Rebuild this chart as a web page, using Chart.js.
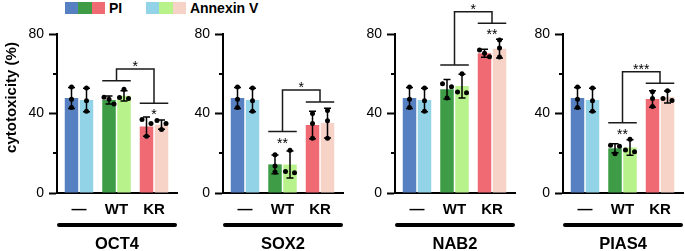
<!DOCTYPE html>
<html>
<head>
<meta charset="utf-8">
<script src="https://cdn.jsdelivr.net/npm/chart.js@4"></script>
<style>
  html, body { margin: 0; padding: 0; background: #fff; width: 685px; height: 251px; overflow: hidden; position: relative; }
  canvas { position: absolute; top: 0; }
  .sw { position: absolute; top: 2px; height: 12px; }
  .lg { position: absolute; top: 0; font: bold 14px "Liberation Sans", Arial, sans-serif; line-height: 16px; color: #000; }
</style>
</head>
<body>
<script>
// cytotoxicity panels — PI vs Annexin V, mean ± SD with replicate dots

const panelNames = ['OCT4', 'SOX2', 'NAB2', 'PIAS4'];
const groupLabels = ['—', 'WT', 'KR'];
const seriesNames = ['PI', 'Annexin V'];
const yTicks = [0, 20, 40, 60, 80];
const yLabelTicks = [0, 40, 80];

const piMeans = [[47.8, 46.8, 33.4], [47.8, 14.4, 34.2], [47.8, 52.2, 70.3], [47.8, 22.5, 47.3]];
const piSd = [[5.3, 2.0, 4.8], [5.3, 4.7, 6.9], [5.3, 4.9, 2.0], [5.3, 2.3, 4.2]];
const piDots = [
  [[53.3, 47.2, 43.0], [47.2, 44.8, 48.2], [37.0, 35.0, 28.5]],
  [[53.3, 47.2, 43.0], [19.2, 13.6, 10.6], [40.0, 35.0, 27.5]],
  [[53.3, 47.2, 43.0], [55.0, 53.5, 47.8], [72.0, 68.6, 70.3]],
  [[53.3, 47.2, 43.0], [24.0, 23.5, 19.8], [51.0, 47.5, 43.5]],
];

const annexinMeans = [[46.8, 48.9, 34.4], [46.8, 14.3, 35.2], [46.8, 53.8, 72.6], [46.8, 22.9, 48.3]];
const annexinSd = [[5.9, 2.6, 2.3], [5.9, 6.8, 7.5], [5.9, 6.0, 4.7], [5.9, 3.9, 3.0]];
const annexinDots = [
  [[52.8, 46.4, 41.1], [52.2, 47.5, 48.0], [36.5, 35.0, 32.0]],
  [[52.8, 46.4, 41.1], [21.5, 10.2, 10.8], [41.5, 36.4, 27.5]],
  [[52.8, 46.4, 41.1], [60.0, 50.5, 50.8], [77.0, 72.9, 68.4]],
  [[52.8, 46.4, 41.1], [27.0, 20.8, 21.6], [51.5, 46.5, 47.5]],
];

// significance brackets (y in % units) and their labels
const wtBracket = [56.5, 30.9, 64.4, 35.4];
const krBracket = [45.1, 45.8, 85.4, 55.2];
const topBracket = [62.4, 51.8, 91.2, 61.0];
const topStars = ['*', '*', '*', '***'];
const wtStars = ['', '**', '', '**'];
const krStars = ['*', '', '**', ''];

const piColors = ['#5680C1', '#3D9C45', '#EF6A72'];
const annexinColors = ['#92D3E8', '#B8F28B', '#F6D2C7'];

const FONT = '"Liberation Sans", Arial, sans-serif';
const axisX = [57, 223, 395, 563];
const Y_AXIS_W = 57, PLOT_W = 120, TOP = 34, X_AXIS_H = 58;
const CANVAS_W = 185, CANVAS_H = 251;
const UNIT = 37.5;                 // px between group centres
const X_MIN = 1 - 22 / UNIT;       // first group centre 22px right of the axis

// legend (html, grouped swatches)
function legend(colors, name, left) {
  colors.forEach((c, i) => {
    const d = document.createElement('div');
    d.className = 'sw';
    d.style.left = (left + i * 13.3) + 'px';
    d.style.width = '13.6px';
    d.style.background = c;
    document.body.appendChild(d);
  });
  const t = document.createElement('div');
  t.className = 'lg';
  t.style.left = (left + 3 * 13.3 + 4) + 'px';
  t.textContent = name;
  document.body.appendChild(t);
}
legend(piColors, seriesNames[0], 65);
legend(annexinColors, seriesNames[1], 146);

function spread(ys) {
  const sorted = ys.slice().sort((a, b) => a - b);
  const out = [];
  let cluster = [sorted[0]];
  const flush = () => {
    const n = cluster.length;
    cluster.forEach((py, k) => out.push([py, n === 1 ? 0 : (k - (n - 1) / 2) * (n === 2 ? 9 : 5)]));
  };
  for (let k = 1; k < sorted.length; k++) {
    if (sorted[k] - sorted[k - 1] < 5) cluster.push(sorted[k]);
    else { flush(); cluster = [sorted[k]]; }
  }
  flush();
  return out;
}

function star(ctx, txt, x, yc) {
  if (!txt) return;
  ctx.font = '14px ' + FONT;
  ctx.textAlign = 'center';
  ctx.textBaseline = 'alphabetic';
  ctx.fillText(txt, x, yc + 8);
}

function overlay(p) {
  return {
    id: 'overlay' + p,
    afterDatasetsDraw(chart) {
      const { ctx, scales: { y } } = chart;
      const pi = chart.getDatasetMeta(0).data;
      const ax = chart.getDatasetMeta(1).data;
      ctx.save();
      ctx.strokeStyle = '#000';
      ctx.fillStyle = '#000';
      [[pi, piMeans[p], piSd[p], piDots[p]], [ax, annexinMeans[p], annexinSd[p], annexinDots[p]]].forEach(([bars, means, sd, dots]) => {
        bars.forEach((bar, g) => {
          const top = y.getPixelForValue(means[g] + sd[g]);
          const bot = y.getPixelForValue(means[g] - sd[g]);
          ctx.lineWidth = 1.5;
          ctx.beginPath();
          ctx.moveTo(bar.x, top); ctx.lineTo(bar.x, bot);
          ctx.moveTo(bar.x - 3.5, top); ctx.lineTo(bar.x + 3.5, top);
          ctx.moveTo(bar.x - 3.5, bot); ctx.lineTo(bar.x + 3.5, bot);
          ctx.stroke();
          spread(dots[g].map(v => y.getPixelForValue(v))).forEach(([py, dx]) => {
            ctx.beginPath();
            ctx.arc(bar.x + dx, py, 2.5, 0, Math.PI * 2);
            ctx.fill();
          });
        });
      });

      const pairL = g => pi[g].x - pi[g].width / 2;
      const pairR = g => ax[g].x + ax[g].width / 2;
      const mid = g => (pairL(g) + pairR(g)) / 2;
      const yWT = y.getPixelForValue(wtBracket[p]);
      const yKR = y.getPixelForValue(krBracket[p]);
      const yTop = y.getPixelForValue(topBracket[p]);
      ctx.strokeStyle = '#1a1a1a';
      ctx.lineWidth = 1.5;
      ctx.beginPath();
      ctx.moveTo(pairL(1), yWT); ctx.lineTo(pairR(1), yWT);
      ctx.moveTo(pairL(2), yKR); ctx.lineTo(pairR(2), yKR);
      ctx.moveTo(mid(1), yWT); ctx.lineTo(mid(1), yTop); ctx.lineTo(mid(2), yTop); ctx.lineTo(mid(2), yKR);
      ctx.stroke();
      star(ctx, topStars[p], (mid(1) + mid(2)) / 2, yTop - 6);
      star(ctx, wtStars[p], mid(1), yWT + 8);
      star(ctx, krStars[p], mid(2), yKR + 8);
      ctx.restore();
    },
    afterDraw(chart) {
      const { ctx, chartArea: a, scales: { y } } = chart;
      ctx.save();
      ctx.strokeStyle = '#000';
      ctx.fillStyle = '#000';
      // minor y ticks
      ctx.lineWidth = 2;
      ctx.beginPath();
      yTicks.filter(v => !yLabelTicks.includes(v)).forEach(v => {
        const py = Math.round(y.getPixelForValue(v));
        ctx.moveTo(a.left - 4, py); ctx.lineTo(a.left, py);
      });
      ctx.stroke();
      // thick underline + gene name
      ctx.lineWidth = 4;
      ctx.lineCap = 'round';
      ctx.beginPath();
      ctx.moveTo(a.left + 2, 225); ctx.lineTo(a.right - 2, 225);
      ctx.stroke();
      ctx.font = 'bold 16.5px ' + FONT;
      ctx.textAlign = 'center';
      ctx.textBaseline = 'alphabetic';
      ctx.fillText(panelNames[p], (a.left + a.right) / 2, 249);
      if (p === 0) {
        ctx.translate(12, 97.5);
        ctx.rotate(-Math.PI / 2);
        ctx.font = 'bold 15px ' + FONT;
        ctx.textBaseline = 'middle';
        ctx.fillText('cytotoxicity (%)', 0, 0);
      }
      ctx.restore();
    },
  };
}

function makePanel(p) {
  const canvas = document.createElement('canvas');
  canvas.width = CANVAS_W;
  canvas.height = CANVAS_H;
  canvas.style.left = (axisX[p] - Y_AXIS_W) + 'px';
  document.body.appendChild(canvas);
  const toXY = arr => arr.map((v, i) => ({ x: i + 1, y: v }));
  // eslint-disable-next-line no-undef
  return new Chart(canvas.getContext('2d'), {
    type: 'bar',
    data: {
      datasets: [
        { label: seriesNames[0], data: toXY(piMeans[p]), backgroundColor: piColors, borderWidth: 0 },
        { label: seriesNames[1], data: toXY(annexinMeans[p]), backgroundColor: annexinColors, borderWidth: 0 },
      ],
    },
    options: {
      responsive: false, animation: false,
      categoryPercentage: 0.8, barPercentage: 0.9,
      layout: { padding: { top: TOP, right: CANVAS_W - Y_AXIS_W - PLOT_W, left: 0, bottom: 0 } },
      scales: {
        x: {
          type: 'linear', offset: false, min: X_MIN, max: X_MIN + PLOT_W / UNIT,
          afterBuildTicks: s => { s.ticks = groupLabels.map((_, i) => ({ value: i + 1 })); },
          afterFit: s => { s.height = X_AXIS_H; },
          grid: { display: false, drawTicks: false },
          border: { display: true, color: '#000', width: 2 },
          ticks: { callback: v => groupLabels[v - 1] ?? '', color: '#000', font: { family: FONT, size: 15, weight: 'bold' }, padding: 8, maxRotation: 0, autoSkip: false },
        },
        y: {
          min: 0, max: 80,
          afterBuildTicks: s => { s.ticks = yTicks.map(v => ({ value: v })); },
          afterFit: s => { s.width = Y_AXIS_W; },
          grid: { drawOnChartArea: false, drawTicks: true, tickLength: 8, tickWidth: 2, tickColor: c => (c.tick && yLabelTicks.includes(c.tick.value) ? '#000' : 'rgba(0,0,0,0)') },
          border: { color: '#000', width: 2 },
          ticks: { callback: v => (yLabelTicks.includes(v) ? String(v) : ''), color: '#000', font: { family: FONT, size: 14 }, padding: 5 },
        },
      },
      plugins: { legend: { display: false }, tooltip: { enabled: false } },
    },
    plugins: [overlay(p)],
  });
}

panelNames.forEach((_, p) => makePanel(p));
</script>
</body>
</html>
